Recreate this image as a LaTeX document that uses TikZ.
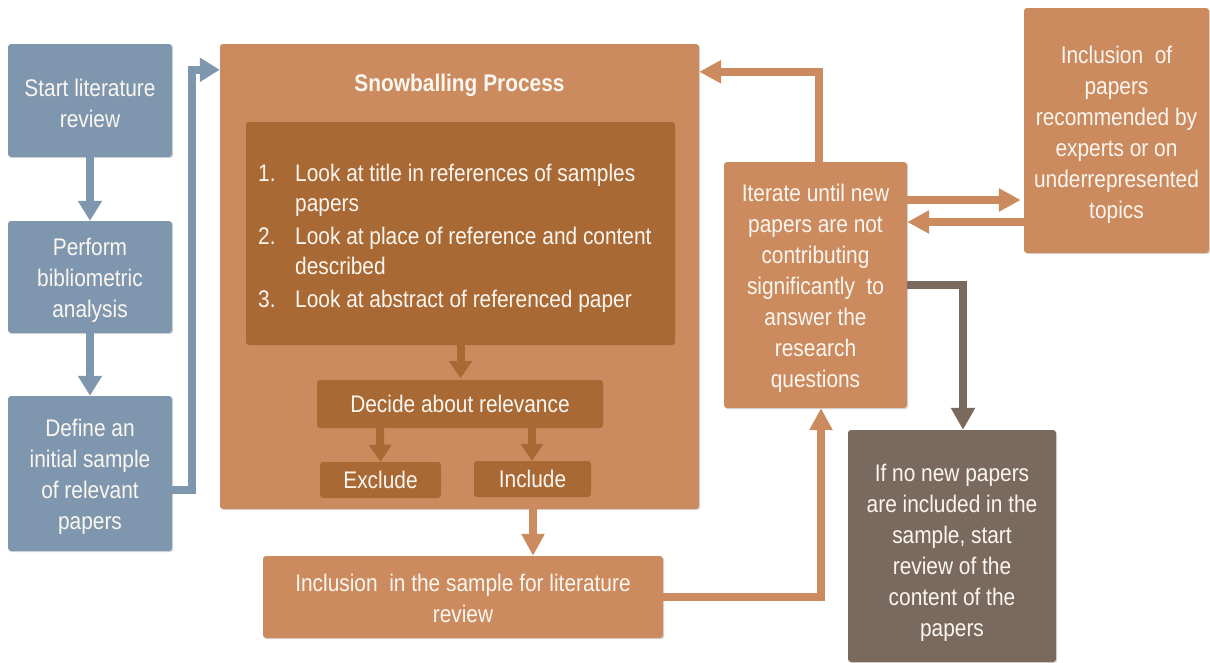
\documentclass[tikz,border=0pt]{standalone}
\usepackage{fontspec}
\setmainfont[FakeStretch=0.87]{Liberation Sans}
\usetikzlibrary{arrows.meta,calc,shadows}

\definecolor{blueC}{HTML}{7F97AE}
\definecolor{orangeC}{HTML}{CB8B5F}
\definecolor{darkC}{HTML}{A96935}
\definecolor{brownC}{HTML}{7A695D}
\definecolor{txtC}{HTML}{FBF6F0}

\tikzset{
  lbl/.style={inner sep=0pt, align=center, text=txtC, font=\fontsize{24}{31}\selectfont},
  % text of a box, set a little below the box centre
  boxtext/.style 2 args={label={[lbl, yshift=-#1]center:{#2}}},
  box/.style={rounded corners=3pt, inner sep=0pt,
    drop shadow={shadow xshift=1.2pt, shadow yshift=-1.2pt, fill=black!30, opacity=0.5}},
  bluebox/.style={box, fill=blueC},
  orbox/.style={box, fill=orangeC},
  brbox/.style={box, fill=brownC},
  inbox/.style={rounded corners=3pt, inner sep=0pt, align=center, text=txtC,
    font=\fontsize{24}{30}\selectfont, fill=darkC},
  flowB/.style={draw=blueC, line width=8pt, -{Triangle[width=23pt,length=20pt]}},
  flowO/.style={draw=orangeC, line width=8pt, -{Triangle[width=22pt,length=22pt]}},
  flowD/.style={draw=darkC, line width=8pt, -{Triangle[width=22pt,length=17pt]}},
  flowR/.style={draw=brownC, line width=8pt, -{Triangle[width=23pt,length=22pt]}},
}

\begin{document}
\begin{tikzpicture}[x=1pt, y=-1pt]
\useasboundingbox (0,0) rectangle (1210,662);

% left column
\node[bluebox, minimum width=164pt, minimum height=113pt,
  boxtext={3pt}{Start literature\\review}] (start) at (90,100.5) {};
\node[bluebox, minimum width=164pt, minimum height=112pt,
  boxtext={3.5pt}{Perform\\bibliometric\\analysis}] (perform) at (90,277) {};
\node[bluebox, minimum width=164pt, minimum height=155pt,
  boxtext={3.5pt}{Define an\\initial sample\\of relevant\\papers}] (define) at (90,473.5) {};

% snowballing process
\node[orbox, minimum width=479pt, minimum height=465pt] (snow) at (459.5,276.5) {};
\node[text=txtC, font=\fontsize{24}{30}\selectfont\bfseries, inner sep=0pt] (title) at (459.5,85) {Snowballing Process};
\node[inbox, minimum width=429pt, minimum height=223pt] (steps) at (460.5,233.5) {};
\node[anchor=west, align=left, inner sep=0pt, text=txtC, font=\fontsize{24}{30}\selectfont] (list) at (258,238)
  {\begin{tabular}{@{}p{37pt}@{}l@{}}
   1.&Look at title in references of samples\\
     &papers\\[3pt]
   2.&Look at place of reference and content\\
     &described\\[3pt]
   3.&Look at abstract of referenced paper
   \end{tabular}};
\node[inbox, minimum width=286pt, minimum height=48pt] (decide) at (460,404) {Decide about relevance};
\node[inbox, minimum width=121pt, minimum height=36pt] (exclude) at (380.5,480) {Exclude};
\node[inbox, minimum width=117pt, minimum height=36pt] (include) at (532.5,479) {Include};

% lower and right boxes
\node[orbox, minimum width=400pt, minimum height=82pt,
  boxtext={1.5pt}{Inclusion\ \ in the sample for literature\\review}] (incl) at (463,597) {};
\node[orbox, minimum width=183pt, minimum height=246pt,
  boxtext={3pt}{Iterate until new\\papers are not\\contributing\\significantly\ \ to\\answer the\\research\\questions}] (iter) at (815.5,285) {};
\node[orbox, minimum width=185pt, minimum height=245pt,
  boxtext={4.5pt}{Inclusion\ \ of\\papers\\recommended by\\experts or on\\underrepresented\\topics}] (papers) at (1116.5,130.5) {};
\node[brbox, minimum width=208pt, minimum height=232pt,
  boxtext={6.5pt}{If no new papers\\are included in the\\sample, start\\review of the\\content of the\\papers}] (ifno) at (952,546) {};

% connectors of the left column
\draw[flowB] (start.south) -- (perform.north);
\draw[flowB] (perform.south) -- (define.north);
\draw[flowB] ($(define.east)+(0,16.5)$) -- ++(20,0) |- ($(snow.north west)+(0,26)$);

% inner steps of the snowballing process
\draw[flowD] (steps.south) -- ++(0,33);
\draw[flowD] ($(decide.south)+(-80,0)$) -- (exclude.north);
\draw[flowD] ($(decide.south)+(72,0)$) -- ($(include.north)+(-0.5,0)$);

% outer loop
\draw[flowO] ($(snow.south)+(73.5,0)$) -- ($(incl.north)+(70,0)$);
\draw[flowO] (incl.east) -| ($(iter.south)+(5.5,0)$);
\draw[flowO] ($(iter.north)+(3,0)$) |- ($(snow.north east)+(0,28)$);
\draw[flowO] ($(iter.east)+(0,-85)$) -- ($(papers.west)+(-3,69.5)$);
\draw[flowO] ($(papers.west)+(0,91.5)$) -- ($(iter.east)+(0,-63)$);
\draw[flowR] (iter.east) -| ($(ifno.north)+(11,0)$);
\end{tikzpicture}
\end{document}
